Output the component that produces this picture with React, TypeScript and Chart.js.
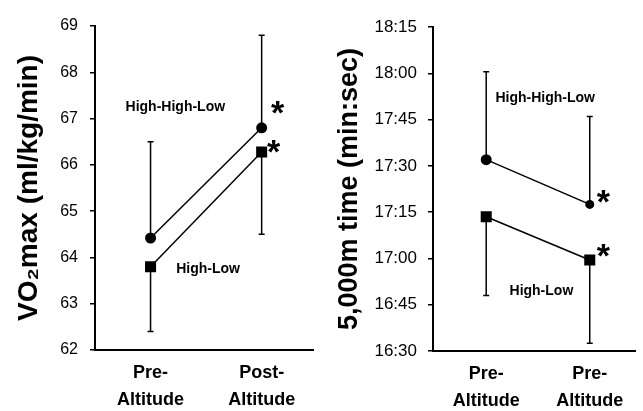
import React, { useEffect, useRef } from "react";
import { Chart, registerables } from "chart.js";

Chart.register(...registerables);

// ---------- data ----------
const phases = [0, 1];
const vo2Categories = [["Pre-", "Altitude"], ["Post-", "Altitude"]];
const timeCategories = [["Pre-", "Altitude"], ["Pre-", "Altitude"]];

// VO2max (ml/kg/min)
const vo2HighHighLow = [64.42, 66.8];
const vo2HighHighLowUpper = [66.5, 68.8];
const vo2HighLow = [63.8, 66.28];
const vo2HighLowLower = [62.4, 64.5];
const vo2Ticks = [62, 63, 64, 65, 66, 67, 68, 69];

// 5,000 m time in seconds
const timeHighHighLow = [1052, 1037.5];
const timeHighHighLowUpper = [1080.5, 1066];
const timeHighLow = [1033.5, 1019.5];
const timeHighLowLower = [1008, 992.5];
const timeTicks = [990, 1005, 1020, 1035, 1050, 1065, 1080, 1095];

// annotation anchors (data coordinates)
const vo2Notes = [
  { text: "High-High-Low", x: 0.223, y: 67.25, size: 14 },
  { text: "High-Low", x: 0.518, y: 63.75, size: 14 },
  { text: "*", x: 1.143, y: 67.25, size: 34 },
  { text: "*", x: 1.107, y: 66.39, size: 34 },
];
const timeNotes = [
  { text: "High-High-Low", x: 0.57, y: 1072, size: 14 },
  { text: "High-Low", x: 0.533, y: 1009.4, size: 14 },
  { text: "*", x: 1.131, y: 1040, size: 34 },
  { text: "*", x: 1.131, y: 1022.7, size: 34 },
];

const FONT = "'Liberation Sans', Arial, Helvetica, sans-serif";

const fmtTime = (v: number) => {
  const m = Math.floor(v / 60);
  const s = Math.round(v - m * 60);
  return `${m}:${String(s).padStart(2, "0")}`;
};

type Bars = { values: number[]; bounds: number[] }[];
type Note = { text: string; x: number; y: number; size: number };

function makePlugin(bars: Bars, notes: Note[]) {
  return {
    id: "extras",
    beforeDatasetsDraw(chart: any) {
      const ctx = chart.ctx;
      const xs = chart.scales.x;
      const ys = chart.scales.y;
      ctx.save();
      ctx.strokeStyle = "#000";
      ctx.lineWidth = 1.5;
      bars.forEach((b) => {
        b.values.forEach((v, i) => {
          const px = xs.getPixelForValue(phases[i]);
          const y0 = ys.getPixelForValue(v);
          const y1 = ys.getPixelForValue(b.bounds[i]);
          ctx.beginPath();
          ctx.moveTo(px, y0);
          ctx.lineTo(px, y1);
          ctx.moveTo(px - 3, y1);
          ctx.lineTo(px + 3, y1);
          ctx.stroke();
        });
      });
      ctx.restore();
    },
    afterDatasetsDraw(chart: any) {
      const ctx = chart.ctx;
      const xs = chart.scales.x;
      const ys = chart.scales.y;
      ctx.save();
      ctx.fillStyle = "#000";
      ctx.textAlign = "center";
      ctx.textBaseline = "alphabetic";
      notes.forEach((n) => {
        ctx.font = `bold ${n.size}px ${FONT}`;
        const m = ctx.measureText(n.text);
        const asc = m.actualBoundingBoxAscent;
        const desc = m.actualBoundingBoxDescent;
        const px = xs.getPixelForValue(n.x);
        const py = ys.getPixelForValue(n.y);
        ctx.fillText(n.text, px, py + (asc - desc) / 2);
      });
      ctx.restore();
    },
  };
}

type PanelProps = {
  left: number;
  width: number;
  axisLeft: number;
  padTop: number;
  padRight: number;
  bottomH: number;
  xMin: number;
  xMax: number;
  yMin: number;
  yMax: number;
  yTicks: number[];
  yFmt: (v: number) => string;
  yTickSize: number;
  yTickPad: number;
  title: string;
  titleSize: number;
  categories: string[][];
  hhl: number[];
  hl: number[];
  hhlRadius: number[];
  bars: Bars;
  notes: Note[];
};

function Panel(p: PanelProps) {
  const ref = useRef<HTMLCanvasElement | null>(null);
  useEffect(() => {
    if (!ref.current) return;
    const chart = new Chart(ref.current, {
      type: "line",
      data: {
        datasets: [
          {
            label: "High-High-Low",
            data: phases.map((x, i) => ({ x, y: p.hhl[i] })),
            borderColor: "#000",
            borderWidth: 1.5,
            pointStyle: "circle",
            pointRadius: p.hhlRadius,
            pointBackgroundColor: "#000",
            pointBorderColor: "#000",
            pointBorderWidth: 0,
            fill: false,
          },
          {
            label: "High-Low",
            data: phases.map((x, i) => ({ x, y: p.hl[i] })),
            borderColor: "#000",
            borderWidth: 1.5,
            pointStyle: "rect",
            pointRadius: 7.8,
            pointBackgroundColor: "#000",
            pointBorderColor: "#000",
            pointBorderWidth: 0,
            fill: false,
          },
        ],
      },
      options: {
        animation: false,
        responsive: false,
        devicePixelRatio: 1,
        layout: { padding: { top: p.padTop, right: p.padRight, left: 0, bottom: 0 } },
        plugins: { legend: { display: false }, tooltip: { enabled: false } },
        scales: {
          x: {
            type: "linear",
            min: p.xMin,
            max: p.xMax,
            afterBuildTicks: (s: any) => {
              s.ticks = phases.map((v) => ({ value: v }));
            },
            afterFit: (s: any) => {
              s.height = p.bottomH;
            },
            grid: { display: false, drawTicks: false },
            border: { display: true, color: "#000", width: 2 },
            ticks: {
              color: "#000",
              padding: 10,
              maxRotation: 0,
              autoSkip: false,
              font: { family: FONT, size: 18, weight: "bold", lineHeight: 1.5 },
              callback: (v: any) => p.categories[Math.round(v)] ?? "",
            },
          },
          y: {
            type: "linear",
            min: p.yMin,
            max: p.yMax,
            afterBuildTicks: (s: any) => {
              s.ticks = p.yTicks.map((v) => ({ value: v }));
            },
            afterFit: (s: any) => {
              s.width = p.axisLeft;
            },
            grid: {
              display: true,
              drawOnChartArea: false,
              drawTicks: true,
              tickLength: 5,
              color: "#000",
              lineWidth: 1.5,
            },
            border: { display: true, color: "#000", width: 2 },
            ticks: {
              color: "#000",
              padding: p.yTickPad,
              autoSkip: false,
              font: { family: FONT, size: p.yTickSize },
              callback: (v: any) => p.yFmt(Number(v)),
            },
            title: {
              display: true,
              text: p.title,
              color: "#000",
              padding: { top: 12, bottom: 0 },
              font: { family: FONT, size: p.titleSize, weight: "bold", lineHeight: 1.2 },
            },
          },
        },
      },
      plugins: [makePlugin(p.bars, p.notes)],
    } as any);
    return () => chart.destroy();
  }, []);
  return (
    <canvas
      ref={ref}
      width={p.width}
      height={411}
      style={{ position: "absolute", left: p.left, top: 0, width: p.width, height: 411 }}
    />
  );
}

export default function App() {
  return (
    <div style={{ position: "fixed", left: 0, top: 0, width: 643, height: 411, background: "#fff" }}>
      <Panel
        left={0}
        width={321}
        axisLeft={95}
        padTop={26}
        padRight={6}
        bottomH={61}
        xMin={-0.5}
        xMax={1.464}
        yMin={62}
        yMax={69}
        yTicks={vo2Ticks}
        yFmt={(v) => String(v)}
        yTickSize={16}
        yTickPad={12}
        title={"VO\u2082max (ml/kg/min)"}
        titleSize={28}
        categories={vo2Categories}
        hhl={vo2HighHighLow}
        hl={vo2HighLow}
        hhlRadius={[5.5, 5.5]}
        bars={[
          { values: vo2HighHighLow, bounds: vo2HighHighLowUpper },
          { values: vo2HighLow, bounds: vo2HighLowLower },
        ]}
        notes={vo2Notes}
      />
      <Panel
        left={321}
        width={322}
        axisLeft={112}
        padTop={27}
        padRight={1}
        bottomH={60}
        xMin={-0.514}
        xMax={1.439}
        yMin={990}
        yMax={1095}
        yTicks={timeTicks}
        yFmt={fmtTime}
        yTickSize={17}
        yTickPad={11}
        title={"5,000m time (min:sec)"}
        titleSize={27}
        categories={timeCategories}
        hhl={timeHighHighLow}
        hl={timeHighLow}
        hhlRadius={[5.5, 4.5]}
        bars={[
          { values: timeHighHighLow, bounds: timeHighHighLowUpper },
          { values: timeHighLow, bounds: timeHighLowLower },
        ]}
        notes={timeNotes}
      />
    </div>
  );
}
